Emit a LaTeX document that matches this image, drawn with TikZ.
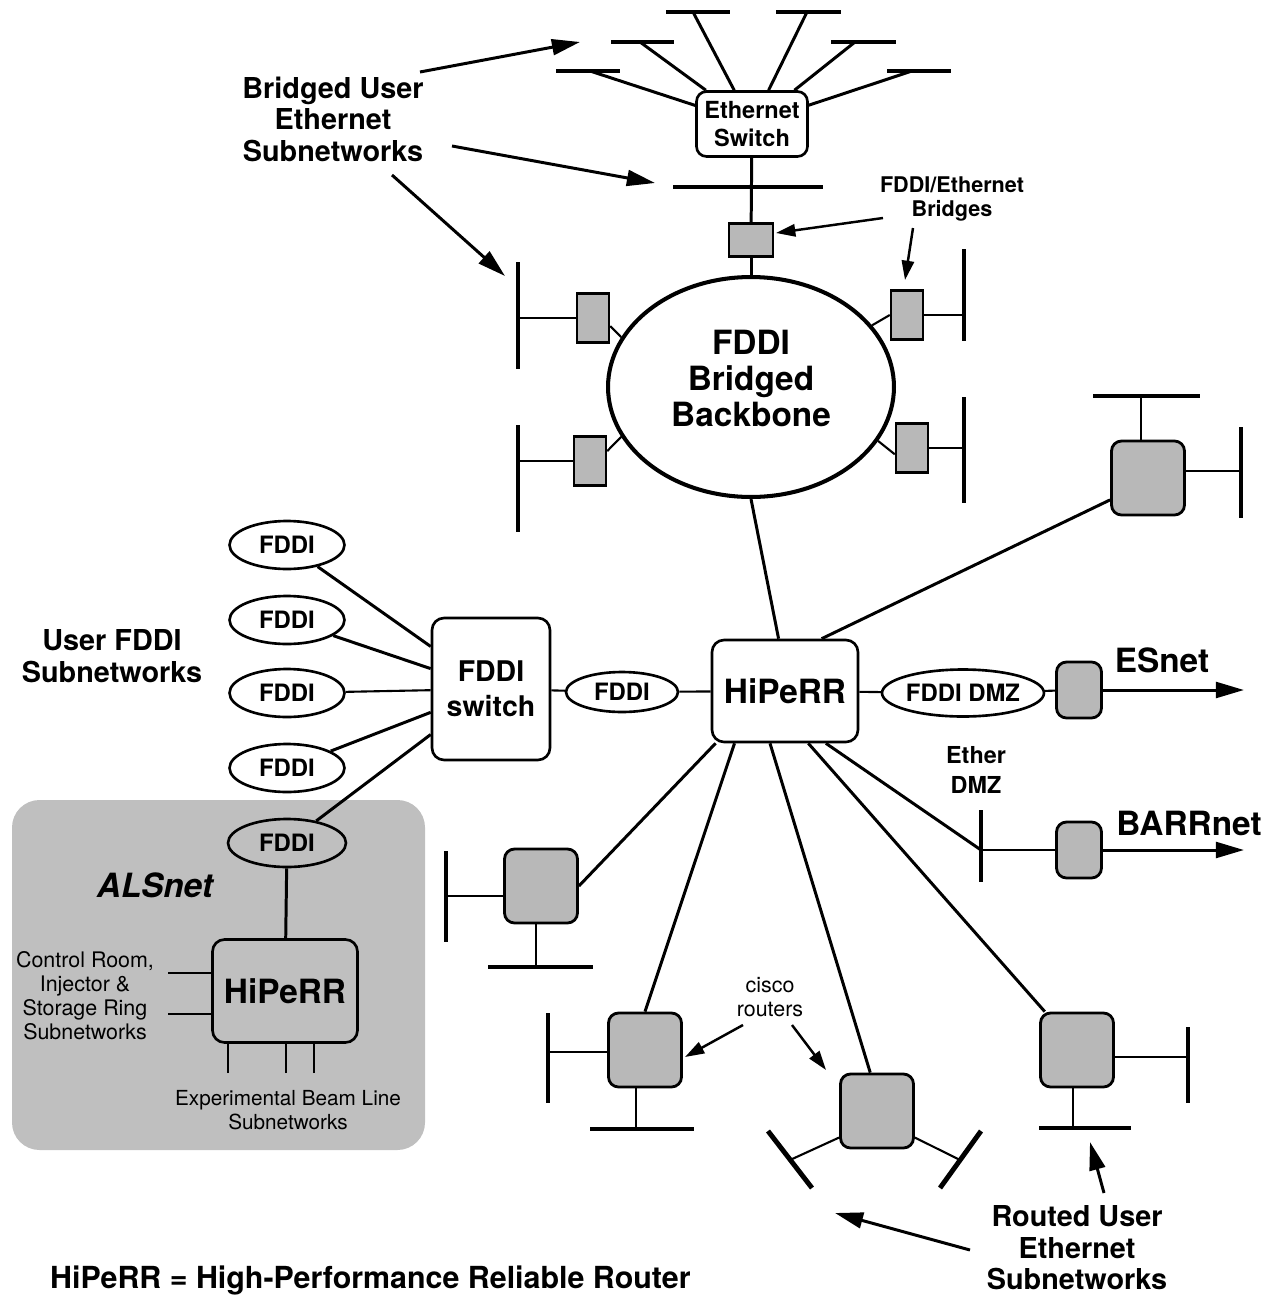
\documentclass[tikz,border=0pt]{standalone}
\usepackage{fontspec}
\setmainfont{TeX Gyre Heros}
\usetikzlibrary{shapes.geometric,arrows.meta}

\newcommand{\lblhuge}{\fontsize{19pt}{20.4pt}\selectfont\bfseries}
\newcommand{\lblbig}{\fontsize{16.4pt}{17.9pt}\selectfont\bfseries}
\newcommand{\lblmid}{\fontsize{13.4pt}{15.9pt}\selectfont\bfseries}
\newcommand{\lblring}{\fontsize{13.6pt}{15pt}\selectfont\bfseries}
\newcommand{\lblsmall}{\fontsize{12.3pt}{13.6pt}\selectfont\bfseries}
\newcommand{\lblplain}{\fontsize{12.2pt}{13.6pt}\selectfont}

\tikzset{
  link/.style={line width=1.7pt},
  stub/.style={line width=1.2pt},
  seg/.style={line width=2.8pt},
  arr/.style={line width=1.7pt, -{Triangle[length=16pt,width=9pt]}},
  smallarr/.style={line width=1.4pt, -{Triangle[length=11pt,width=7pt]}},
  netbox/.style={draw, line width=1.5pt, rounded corners=0.24cm, inner sep=0pt, align=center},
  bridge/.style={draw, line width=1.4pt, fill=black!28, inner sep=0pt, minimum width=0.64cm, minimum height=0.98cm},
  router/.style={draw, line width=1.6pt, fill=black!28, rounded corners=0.2cm, inner sep=0pt, minimum width=1.46cm, minimum height=1.48cm},
  ring/.style={draw, ellipse, line width=1.5pt, inner sep=0pt, minimum width=2.3cm, minimum height=0.96cm, font=\lblring}
}

\begin{document}
\begin{tikzpicture}[x=0.02cm, y=-0.02cm]
    \useasboundingbox (0,0) rectangle (1276,1295);

    % ALSnet shaded area
    \fill[black!25, rounded corners=0.55cm] (12,800) rectangle (425,1150);

    % Draw the Ethernet switch and its segments
    \node[netbox, minimum width=2.22cm, minimum height=1.3cm, rounded corners=0.2cm, font=\lblmid] (esw) at (752,124) {Ethernet\\Switch};
    \draw[seg] (666,12) -- (730,12);
    \draw[seg] (776,12) -- (841,12);
    \draw[seg] (611,42) -- (674,42);
    \draw[seg] (831,42) -- (896,42);
    \draw[seg] (556,71) -- (620,71);
    \draw[seg] (887,71) -- (951,71);
    \draw[seg] (673,187) -- (823,187);
    \coordinate (e1) at (693,12);
    \coordinate (e2) at (807,12);
    \coordinate (e3) at (640,42);
    \coordinate (e4) at (855,42);
    \coordinate (e5) at (590,71);
    \coordinate (e6) at (912,71);
    \draw[link] (esw) -- (e1);
    \draw[link] (esw) -- (e2);
    \draw[link] (esw) -- (e3);
    \draw[link] (esw) -- (e4);
    \draw[link] (esw) -- (e5);
    \draw[link] (esw) -- (e6);

    % Draw the bridged backbone and the bridges
    \node[draw, ellipse, line width=2.3pt, minimum width=5.72cm, minimum height=4.4cm, inner sep=0pt, align=center, text depth=0.34cm, font=\lblhuge] (bb) at (751,387) {FDDI\\Bridged\\Backbone};
    \node[bridge, minimum width=0.88cm, minimum height=0.66cm] (br0) at (751,240) {};
    \node[bridge] (br1) at (593,318) {};
    \node[bridge] (br2) at (590,461) {};
    \node[bridge] (br3) at (907,315) {};
    \node[bridge] (br4) at (912,448) {};
    \draw[link] (esw) -- (br0);
    \draw[link] (br0) -- (bb);
    \draw[stub] (br1.-25) -- (bb.159);
    \draw[stub] (br2.30) -- (bb.201);
    \draw[stub] (br3.west) -- (bb.27);
    \draw[stub] (br4.200) -- (bb.337);
    \draw[seg] (518,262) -- (518,369);
    \draw[seg] (518,425) -- (518,532);
    \draw[seg] (964,249) -- (964,341);
    \draw[seg] (964,397) -- (964,503);
    \coordinate (s1) at (518,318);
    \coordinate (s2) at (518,461);
    \coordinate (s3) at (964,315);
    \coordinate (s4) at (964,448);
    \draw[stub] (br1) -- (s1);
    \draw[stub] (br2) -- (s2);
    \draw[stub] (br3) -- (s3);
    \draw[stub] (br4) -- (s4);

    % Draw the HiPeRR and the FDDI switch
    \node[netbox, minimum width=2.92cm, minimum height=2.04cm, font=\lblhuge] (hip) at (785,691) {HiPeRR};
    \node[netbox, minimum width=2.36cm, minimum height=2.84cm, font=\fontsize{16.2pt}{19.8pt}\selectfont\bfseries] (fsw) at (491,689) {FDDI\\switch};
    \node[ring, minimum width=2.24cm, minimum height=0.8cm] (ff) at (622,692) {FDDI};
    \draw[link] (bb.south) -- (hip.97);
    \draw[stub] (fsw) -- (ff);
    \draw[stub] (ff) -- (hip);

    % User FDDI rings
    \node[ring] (f1) at (287,545) {FDDI};
    \node[ring] (f2) at (287,620) {FDDI};
    \node[ring] (f3) at (287,693) {FDDI};
    \node[ring] (f4) at (287,768) {FDDI};
    \node[ring, minimum width=2.36cm] (alsf) at (287,843) {FDDI};
    \draw[link] (f1) -- (fsw);
    \draw[link] (f2) -- (fsw);
    \draw[stub] (f3) -- (fsw);
    \draw[link] (f4) -- (fsw);
    \draw[link] (alsf) -- (fsw);

    % ALSnet
    \node[netbox, minimum width=2.9cm, minimum height=2.06cm, font=\lblhuge] (alsh) at (285,991) {HiPeRR};
    \draw[link] (alsf) -- (alsh);
    \coordinate (c1) at (168,973);
    \coordinate (c2) at (168,1014);
    \coordinate (x1) at (228,1073);
    \coordinate (x2) at (286,1073);
    \coordinate (x3) at (314,1073);
    \draw[stub] (c1) -- (c1 -| alsh.west);
    \draw[stub] (c2) -- (c2 -| alsh.west);
    \draw[stub] (x1) -- (x1 |- alsh.south);
    \draw[stub] (x2) -- (x2 |- alsh.south);
    \draw[stub] (x3) -- (x3 |- alsh.south);
    \node[font=\fontsize{19pt}{20pt}\selectfont\bfseries\itshape] (alsl) at (155,885) {ALSnet};
    \node[font=\lblplain, align=center] (crl) at (85,996) {Control Room,\\Injector \&\\Storage Ring\\Subnetworks};
    \node[font=\fontsize{11.8pt}{13.6pt}\selectfont, align=center] (ebl) at (288,1110) {Experimental Beam Line\\Subnetworks};

    % ESnet and BARRnet
    \node[ring, minimum width=3.24cm, minimum height=0.94cm] (dmz) at (963,693) {FDDI DMZ};
    \node[router, minimum width=0.9cm, minimum height=1.12cm] (esr) at (1079,690) {};
    \node[router, minimum width=0.9cm, minimum height=1.12cm] (bnr) at (1079,850) {};
    \coordinate (esend) at (1244,690);
    \coordinate (bnend) at (1244,850);
    \coordinate (ed) at (981,850);
    \draw[stub] (hip) -- (dmz);
    \draw[stub] (dmz) -- (esr);
    \draw[arr] (esr) -- (esend);
    \draw[seg] (981,810) -- (981,882);
    \draw[link] (hip.308) -- (ed);
    \draw[stub] (ed) -- (bnr);
    \draw[arr] (bnr) -- (bnend);
    \node[font=\lblhuge] (esl) at (1162,660) {ESnet};
    \node[font=\lblhuge] (bnl) at (1189,823) {BARRnet};
    \node[font=\fontsize{13.3pt}{17pt}\selectfont\bfseries, align=center] (edl) at (976,770) {Ether\\DMZ};

    % Routers round the HiPeRR
    \node[router] (ur) at (1148,478) {};
    \node[router] (lr) at (541,886) {};
    \node[router] (r1) at (645,1050) {};
    \node[router] (r2) at (877,1111) {};
    \node[router] (r3) at (1077,1050) {};
    \draw[link] (hip.55) -- (ur.210);
    \draw[link] (hip.217) -- (lr.east);
    \draw[link] (hip.226) -- (r1.north);
    \draw[link] (hip.254) -- (r2.100);
    \draw[link] (hip.294) -- (r3.130);

    % Router segments
    \draw[seg] (1093,396) -- (1200,396);
    \draw[seg] (1241,427) -- (1241,518);
    \coordinate (u1) at (1141,396);
    \coordinate (u2) at (1241,471);
    \draw[stub] (u1) -- (u1 |- ur.north);
    \draw[stub] (u2) -- (u2 -| ur.east);
    \draw[seg] (446,851) -- (446,942);
    \draw[seg] (488,967) -- (593,967);
    \coordinate (l1) at (446,896);
    \coordinate (l2) at (536,967);
    \draw[stub] (l1) -- (l1 -| lr.west);
    \draw[stub] (l2) -- (l2 |- lr.south);
    \draw[seg] (548,1013) -- (548,1103);
    \draw[seg] (590,1129) -- (694,1129);
    \coordinate (p1) at (548,1052);
    \coordinate (p2) at (636,1129);
    \draw[stub] (p1) -- (p1 -| r1.west);
    \draw[stub] (p2) -- (p2 |- r1.south);
    \draw[seg] (768,1131) -- (812,1188);
    \draw[seg] (981,1131) -- (940,1188);
    \coordinate (q1) at (790,1160);
    \coordinate (q2) at (960,1160);
    \draw[stub] (r2.215) -- (q1);
    \draw[stub] (r2.-35) -- (q2);
    \draw[seg] (1188,1027) -- (1188,1103);
    \draw[seg] (1039,1128) -- (1131,1128);
    \coordinate (w1) at (1188,1057);
    \coordinate (w2) at (1073,1128);
    \draw[stub] (w1) -- (w1 -| r3.east);
    \draw[stub] (w2) -- (w2 |- r3.south);

    % Labels and pointer arrows
    \node[font=\lblbig, align=center] (lbu) at (333,119) {Bridged User\\Ethernet\\Subnetworks};
    \node[font=\lblbig, align=center] (luf) at (112,656) {User FDDI\\Subnetworks};
    \node[font=\lblbig, align=center] (lru) at (1077,1248) {Routed User\\Ethernet\\Subnetworks};
    \node[font=\lblsmall, align=center] (lbr) at (952,199) {FDDI/Ethernet\\Bridges};
    \node[font=\lblplain, align=center] (lcr) at (770,997) {cisco\\routers};
    \node[font=\fontsize{17.3pt}{18pt}\selectfont\bfseries, anchor=base west] (key) at (44,1288) {HiPeRR = High-Performance Reliable Router};

    \coordinate (a1s) at (420,72);   \coordinate (a1e) at (580,42);
    \coordinate (a2s) at (452,146);  \coordinate (a2e) at (655,183);
    \coordinate (a3s) at (392,175);  \coordinate (a3e) at (505,276);
    \coordinate (b1s) at (883,218);  \coordinate (b1e) at (776,233);
    \coordinate (b2s) at (913,228);  \coordinate (b2e) at (905,280);
    \coordinate (k1s) at (743,1025); \coordinate (k1e) at (685,1057);
    \coordinate (k2s) at (792,1025); \coordinate (k2e) at (826,1070);
    \coordinate (u3s) at (1104,1193); \coordinate (u3e) at (1090,1142);
    \coordinate (u4s) at (970,1250); \coordinate (u4e) at (835,1213);
    \draw[arr] (a1s) -- (a1e);
    \draw[arr] (a2s) -- (a2e);
    \draw[arr] (a3s) -- (a3e);
    \draw[smallarr] (b1s) -- (b1e);
    \draw[smallarr] (b2s) -- (b2e);
    \draw[smallarr] (k1s) -- (k1e);
    \draw[smallarr] (k2s) -- (k2e);
    \draw[arr] (u3s) -- (u3e);
    \draw[arr] (u4s) -- (u4e);
\end{tikzpicture}
\end{document}
